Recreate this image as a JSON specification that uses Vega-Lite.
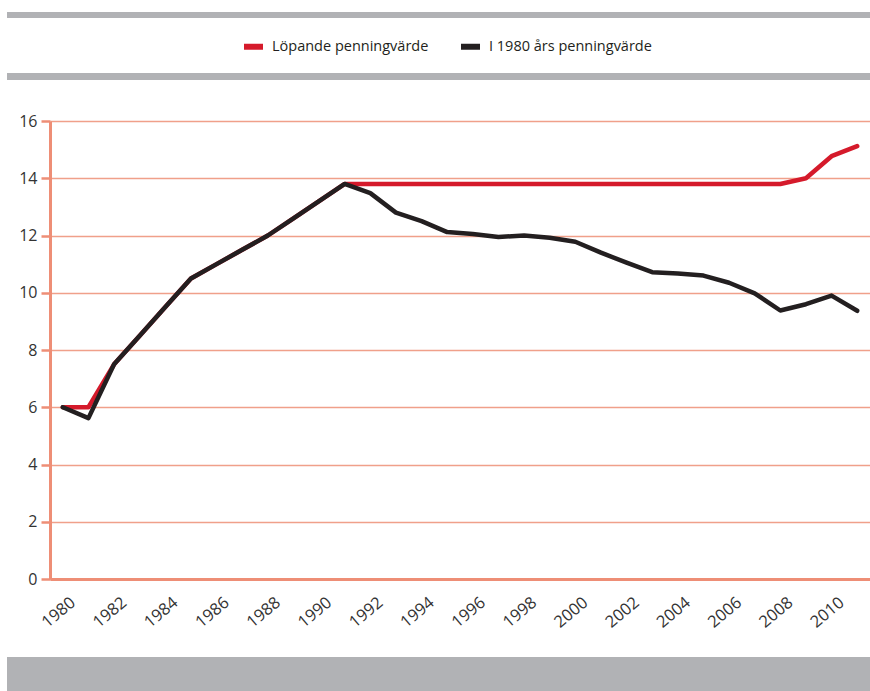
{
  "$schema": "https://vega.github.io/schema/vega-lite/v6.json",
  "padding": {"left": 7, "top": 12, "right": 0, "bottom": 0},
  "autosize": {"type": "pad"},
  "background": "white",
  "spacing": 0,
  "bounds": "flush",
  "config": {
    "view": {"stroke": null},
    "font": "Open Sans"
  },
  "datasets": {
    "series": [
      {"year": 1980, "value": 6.0, "series": "Löpande penningvärde"},
      {"year": 1981, "value": 6.0, "series": "Löpande penningvärde"},
      {"year": 1982, "value": 7.5, "series": "Löpande penningvärde"},
      {"year": 1983, "value": 8.5, "series": "Löpande penningvärde"},
      {"year": 1984, "value": 9.5, "series": "Löpande penningvärde"},
      {"year": 1985, "value": 10.5, "series": "Löpande penningvärde"},
      {"year": 1986, "value": 11.0, "series": "Löpande penningvärde"},
      {"year": 1987, "value": 11.5, "series": "Löpande penningvärde"},
      {"year": 1988, "value": 12.0, "series": "Löpande penningvärde"},
      {"year": 1989, "value": 12.6, "series": "Löpande penningvärde"},
      {"year": 1990, "value": 13.2, "series": "Löpande penningvärde"},
      {"year": 1991, "value": 13.8, "series": "Löpande penningvärde"},
      {"year": 1992, "value": 13.8, "series": "Löpande penningvärde"},
      {"year": 1993, "value": 13.8, "series": "Löpande penningvärde"},
      {"year": 1994, "value": 13.8, "series": "Löpande penningvärde"},
      {"year": 1995, "value": 13.8, "series": "Löpande penningvärde"},
      {"year": 1996, "value": 13.8, "series": "Löpande penningvärde"},
      {"year": 1997, "value": 13.8, "series": "Löpande penningvärde"},
      {"year": 1998, "value": 13.8, "series": "Löpande penningvärde"},
      {"year": 1999, "value": 13.8, "series": "Löpande penningvärde"},
      {"year": 2000, "value": 13.8, "series": "Löpande penningvärde"},
      {"year": 2001, "value": 13.8, "series": "Löpande penningvärde"},
      {"year": 2002, "value": 13.8, "series": "Löpande penningvärde"},
      {"year": 2003, "value": 13.8, "series": "Löpande penningvärde"},
      {"year": 2004, "value": 13.8, "series": "Löpande penningvärde"},
      {"year": 2005, "value": 13.8, "series": "Löpande penningvärde"},
      {"year": 2006, "value": 13.8, "series": "Löpande penningvärde"},
      {"year": 2007, "value": 13.8, "series": "Löpande penningvärde"},
      {"year": 2008, "value": 13.8, "series": "Löpande penningvärde"},
      {"year": 2009, "value": 14.0, "series": "Löpande penningvärde"},
      {"year": 2010, "value": 14.77, "series": "Löpande penningvärde"},
      {"year": 2011, "value": 15.12, "series": "Löpande penningvärde"},
      {"year": 1980, "value": 6.0, "series": "I 1980 års penningvärde"},
      {"year": 1981, "value": 5.62, "series": "I 1980 års penningvärde"},
      {"year": 1982, "value": 7.5, "series": "I 1980 års penningvärde"},
      {"year": 1983, "value": 8.5, "series": "I 1980 års penningvärde"},
      {"year": 1984, "value": 9.5, "series": "I 1980 års penningvärde"},
      {"year": 1985, "value": 10.5, "series": "I 1980 års penningvärde"},
      {"year": 1986, "value": 11.0, "series": "I 1980 års penningvärde"},
      {"year": 1987, "value": 11.5, "series": "I 1980 års penningvärde"},
      {"year": 1988, "value": 12.0, "series": "I 1980 års penningvärde"},
      {"year": 1989, "value": 12.6, "series": "I 1980 års penningvärde"},
      {"year": 1990, "value": 13.2, "series": "I 1980 års penningvärde"},
      {"year": 1991, "value": 13.8, "series": "I 1980 års penningvärde"},
      {"year": 1992, "value": 13.48, "series": "I 1980 års penningvärde"},
      {"year": 1993, "value": 12.8, "series": "I 1980 års penningvärde"},
      {"year": 1994, "value": 12.5, "series": "I 1980 års penningvärde"},
      {"year": 1995, "value": 12.12, "series": "I 1980 års penningvärde"},
      {"year": 1996, "value": 12.05, "series": "I 1980 års penningvärde"},
      {"year": 1997, "value": 11.95, "series": "I 1980 års penningvärde"},
      {"year": 1998, "value": 12.0, "series": "I 1980 års penningvärde"},
      {"year": 1999, "value": 11.92, "series": "I 1980 års penningvärde"},
      {"year": 2000, "value": 11.78, "series": "I 1980 års penningvärde"},
      {"year": 2001, "value": 11.4, "series": "I 1980 års penningvärde"},
      {"year": 2002, "value": 11.05, "series": "I 1980 års penningvärde"},
      {"year": 2003, "value": 10.72, "series": "I 1980 års penningvärde"},
      {"year": 2004, "value": 10.67, "series": "I 1980 års penningvärde"},
      {"year": 2005, "value": 10.6, "series": "I 1980 års penningvärde"},
      {"year": 2006, "value": 10.35, "series": "I 1980 års penningvärde"},
      {"year": 2007, "value": 9.98, "series": "I 1980 års penningvärde"},
      {"year": 2008, "value": 9.38, "series": "I 1980 års penningvärde"},
      {"year": 2009, "value": 9.6, "series": "I 1980 års penningvärde"},
      {"year": 2010, "value": 9.9, "series": "I 1980 års penningvärde"},
      {"year": 2011, "value": 9.37, "series": "I 1980 års penningvärde"}
    ]
  },
  "vconcat": [
    {
      "width": 863, "height": 6,
      "data": {"values": []},
      "mark": "rect", "encoding": {},
      "view": {"fill": "#b1b2b5", "stroke": null}
    },
    {
      "width": 863, "height": 55,
      "data": {"values": []},
      "mark": "rect", "encoding": {},
      "view": {"fill": null, "stroke": null}
    },
    {
      "width": 863, "height": 7,
      "data": {"values": []},
      "mark": "rect", "encoding": {},
      "view": {"fill": "#b1b2b5", "stroke": null}
    },
    {
      "width": 863, "height": 41,
      "data": {"values": []},
      "mark": "rect", "encoding": {},
      "view": {"fill": null, "stroke": null}
    },
    {
      "width": 863, "height": 458,
      "data": {"name": "series"},
      "mark": {"type": "line", "strokeWidth": 4.5, "strokeJoin": "round", "strokeCap": "round"},
      "encoding": {
        "x": {
          "field": "year", "type": "quantitative",
          "scale": {"domain": [1979.5, 2011.5], "range": [43, 863], "nice": false, "zero": false},
          "axis": {
            "title": null,
            "values": [1980, 1982, 1984, 1986, 1988, 1990, 1992, 1994, 1996, 1998, 2000, 2002, 2004, 2006, 2008, 2010],
            "format": "d",
            "grid": false,
            "ticks": false,
            "domain": true,
            "domainColor": "#ee8e76",
            "domainWidth": 3,
            "labelAngle": -40,
            "labelAlign": "right",
            "labelBaseline": "middle",
            "labelOffset": 10,
            "labelPadding": 21,
            "labelFont": "Open Sans",
            "labelFontSize": 16.5,
            "labelColor": "#333333",
            "labelOverlap": false
          }
        },
        "y": {
          "field": "value", "type": "quantitative",
          "scale": {"domain": [0, 16], "nice": false},
          "axis": {
            "title": null,
            "values": [0, 2, 4, 6, 8, 10, 12, 14, 16],
            "offset": -43,
            "grid": true,
            "gridColor": "#f0a08a",
            "gridWidth": 1.5,
            "domainColor": "#ee8e76",
            "domainWidth": 3,
            "tickColor": "#ee8e76",
            "tickWidth": 2.5,
            "tickSize": 9,
            "labelPadding": 4,
            "labelFont": "Open Sans",
            "labelFontSize": 16,
            "labelColor": "#333333"
          }
        },
        "color": {
          "field": "series", "type": "nominal",
          "scale": {"domain": ["Löpande penningvärde", "I 1980 års penningvärde"], "range": ["#d51a2b", "#231f20"]},
          "legend": {
            "title": null,
            "orient": "none",
            "direction": "horizontal",
            "legendX": 234,
            "legendY": 22,
            "symbolType": "stroke",
            "symbolStrokeWidth": 6,
            "symbolSize": 361,
            "labelFont": "Open Sans",
            "labelFontSize": 14.5,
            "labelLimit": 400,
            "labelColor": "#231f20",
            "labelOffset": 6,
            "columnPadding": 20,
            "padding": 0
          }
        }
      }
    },
    {
      "width": 863, "height": 78,
      "data": {"values": []},
      "mark": "rect", "encoding": {},
      "view": {"fill": null, "stroke": null}
    },
    {
      "width": 863, "height": 34,
      "data": {"values": []},
      "mark": "rect", "encoding": {},
      "view": {"fill": "#b1b2b5", "stroke": null}
    }
  ]
}
